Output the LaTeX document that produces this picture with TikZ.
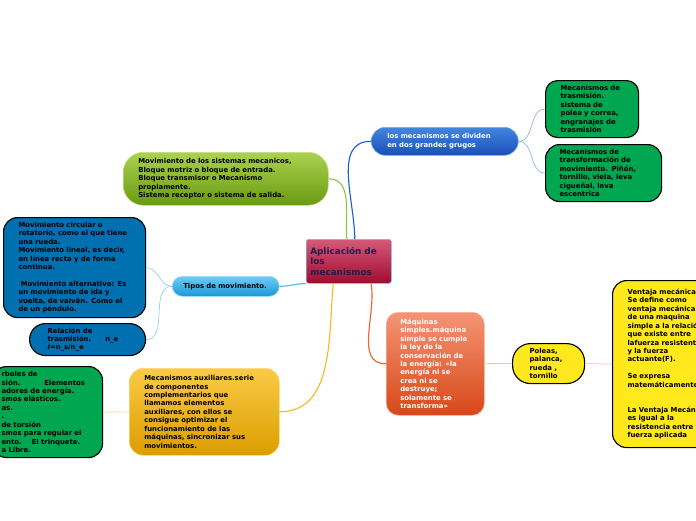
\documentclass[tikz,border=0pt]{standalone}
\usepackage{fontspec}
\setmainfont{DejaVu Sans}
\definecolor{mgreen}{HTML}{00A650}
\definecolor{mblue}{HTML}{0070B0}
\definecolor{myellow}{HTML}{FFE81C}
\definecolor{centop}{HTML}{D45A78}
\definecolor{cenbot}{HTML}{A00C30}
\definecolor{cenrim}{HTML}{88B8E8}
\definecolor{centxt}{HTML}{1E1E50}
\definecolor{divtop}{HTML}{4286DE}
\definecolor{divbot}{HTML}{1A50B8}
\definecolor{movtop}{HTML}{AAD24E}
\definecolor{movbot}{HTML}{6A9A12}
\definecolor{tiptop}{HTML}{70CCF6}
\definecolor{tipbot}{HTML}{1A98D8}
\definecolor{auxtop}{HTML}{FACA46}
\definecolor{auxbot}{HTML}{DC9E00}
\definecolor{maqtop}{HTML}{F49474}
\definecolor{maqbot}{HTML}{D84818}
\definecolor{lnblue}{HTML}{1A5FD0}
\definecolor{lnsky}{HTML}{80A8E0}
\definecolor{lngreen}{HTML}{8CC63F}
\definecolor{lncyan}{HTML}{50B8E8}
\definecolor{lnpale}{HTML}{80C8E8}
\definecolor{lngold}{HTML}{F8B820}
\definecolor{lnsand}{HTML}{F8C878}
\definecolor{lnred}{HTML}{F06030}
\definecolor{lnpeach}{HTML}{F0A080}
\definecolor{lnpink}{HTML}{F0B0B0}

\begin{document}
\begin{tikzpicture}[x=0.25mm,y=-0.25mm,
  box/.style={anchor=north west,align=left,inner ysep=0pt,font=\fontsize{4.9}{6}\selectfont\bfseries},
  flat/.style={draw=black,line width=0.8pt,fill=#1},
  glow/.style 2 args={draw=#1!70!white,line width=0.4pt,top color=#1,bottom color=#2},
  branch/.style={line width=0.8pt,draw=#1},
  twig/.style={line width=0.4pt,draw=#1}]
\useasboundingbox (0,0) rectangle (696,520);
\clip (0,0) rectangle (696,520);

\node[box,glow={centop}{cenbot},draw=cenrim,rounded corners=0.6mm,text width=19.25mm,inner xsep=1mm,minimum height=11mm,
  font=\fontsize{6.3}{7.6}\selectfont\bfseries,text=centxt] (cen) at (306,239) {Aplicación de\\los\\mecanismos};

\node[box,glow={divtop}{divbot},rounded corners=3.5mm,text width=28.75mm,inner xsep=4mm,minimum height=7mm,text=white]
  (div) at (371,127) {los mecanismos se dividen\\en dos grandes grugos};
\node[box,flat=mgreen,rounded corners=3mm,text width=15.75mm,inner xsep=3.75mm,minimum height=14.25mm]
  (tra) at (545,80) {Mecanismos de\\trasmisión.\\sistema de\\polea y correa,\\engranajes de\\trasmisión};
\node[box,flat=mgreen,rounded corners=3.5mm,text width=22mm,inner xsep=3.5mm,minimum height=14.25mm]
  (trf) at (545,144) {Mecanismos de\\transformación de\\movimiento. Piñón,\\tornillo, viela, leva\\cigueñal, leva\\escentrica};

\node[box,glow={movtop}{movbot},rounded corners=5mm,text width=43.75mm,inner xsep=3.75mm,minimum height=13.25mm]
  (mov) at (123,152) {Movimiento de los sistemas mecanicos,\\Bloque motriz o bloque de entrada.\\Bloque transmisor o Mecanismo\\propiamente.\\Sistema receptor o sistema de salida.};

\node[box,glow={tiptop}{tipbot},rounded corners=2.5mm,text width=21.25mm,inner xsep=2.75mm,minimum height=5mm]
  (tip) at (172,276) {Tipos de movimiento.};
\node[box,flat=mblue,rounded corners=3.5mm,text width=28mm,inner xsep=3.75mm,minimum height=25mm]
  (desc) at (3,217) {Movimiento circular o\\rotatorio, como el que tiene\\una rueda.\\Movimiento lineal, es decir,\\en línea recta y de forma\\continua.\\~\\\ Movimiento alternativo: Es\\un movimiento de ida y\\vuelta, de vaivén. Como el\\de un péndulo.};
\node[box,flat=mblue,rounded corners=4mm,text width=20mm,inner xsep=4.5mm,minimum height=8mm]
  (rel) at (29,323) {Relación de\\trasmisión.\hspace{3.5mm}n\_e\\\textit{i}=n\_s/n\_e};

\node[box,glow={auxtop}{auxbot},rounded corners=3.5mm,text width=30mm,inner xsep=3.75mm,minimum height=21.75mm]
  (aux) at (129,368) {Mecanismos auxiliares.serie\\de componentes\\complementarios que\\llamamos elementos\\auxiliares, con ellos se\\consigue optimizar el\\funcionamiento de las\\máquinas, sincronizar sus\\movimientos.};
\node[box,flat=mgreen,rounded corners=3.5mm,text width=23mm,inner xsep=2.25mm,minimum height=22.75mm]
  (ael) at (-8,366) {rboles de\\sión.\hspace{6mm}Elementos\\adores de energía.\\smos elásticos.\\as.\\.\\de torsión\\smos para regular el\\ento.\hspace{2.5mm}El trinquete.\\a Libre.};

\node[box,glow={maqtop}{maqbot},rounded corners=3mm,text width=17.5mm,inner xsep=3.5mm,minimum height=25.75mm,text=white]
  (maq) at (386,312) {Máquinas\\simples.máquina\\simple se cumple\\la ley de la\\conservación de\\la energía: «la\\energía ni se\\crea ni se\\destruye;\\solamente se\\transforma»};
\node[box,flat=myellow,rounded corners=4.5mm,text width=9.5mm,inner xsep=4.25mm,minimum height=10mm]
  (pol) at (512,343) {Poleas,\\palanca,\\rueda ,\\tornillo};
\node[box,flat=myellow,rounded corners=3.5mm,text width=25mm,inner xsep=3.75mm,minimum height=41.75mm]
  (ven) at (612,280) {Ventaja mecánica\\Se define como\\ventaja mecánica\\de una maquina\\simple a la relación\\que existe entre\\lafuerza resistente\\y la fuerza\\actuante(F).\\~\\Se expresa\\matemáticamente\\~\\~\\La Ventaja Mecánica\\es igual a la\\resistencia entre la\\fuerza aplicada};

\draw[branch=lnblue] (cen.75) to[out=90,in=180] (div.west);
\draw[twig=lnsky] (div.east) to[out=0,in=180] (tra.west);
\draw[twig=lnsky] (div.east) to[out=0,in=180] (trf.west);
\draw[branch=lngreen] (cen.95) to[out=95,in=0] (mov.east);
\draw[branch=lncyan] (cen.south west) to[out=180,in=0] (tip.east);
\draw[twig=lnpale] (tip.west) to[out=180,in=0] (desc.east);
\draw[twig=lnpale] (tip.west) to[out=180,in=0] (rel.east);
\draw[branch=lngold] (cen.235) to[out=-95,in=0] (aux.east);
\draw[twig=lnsand] (aux.west) to[out=180,in=0] (ael.east);
\draw[branch=lnred] (cen.315) to[out=-80,in=180] (maq.west);
\draw[twig=lnpeach] (maq.east) to[out=0,in=180] (pol.west);
\draw[twig=lnpink] (pol.east) to[out=0,in=180] (ven.west);
\end{tikzpicture}
\end{document}
